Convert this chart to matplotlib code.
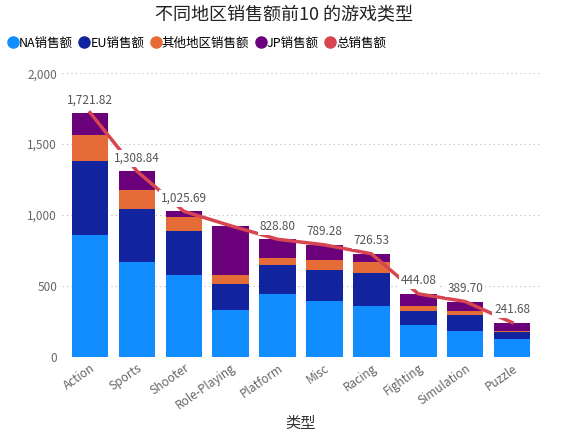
import matplotlib.pyplot as plt
import numpy as np
from matplotlib.ticker import FuncFormatter
from matplotlib.lines import Line2D

plt.rcParams['font.family'] = ['Noto Sans CJK SC', 'DejaVu Sans']

genres = ["Action", "Sports", "Shooter", "Role-Playing", "Platform", "Misc",
          "Racing", "Fighting", "Simulation", "Puzzle"]
na = [861.8, 671.8, 575.2, 326.5, 445.4, 396.9, 356.9, 220.7, 181.8, 122.0]
eu = [516.5, 371.3, 310.2, 187.6, 200.7, 211.8, 236.3, 100.3, 113.0, 50.5]
other = [184.9, 132.7, 101.9, 59.4, 51.5, 73.9, 76.5, 36.2, 31.5, 12.4]
jp = [158.7, 133.0, 38.4, 350.3, 131.2, 106.7, 56.8, 87.3, 63.4, 56.8]
total = [1721.82, 1308.84, 1025.69, 923.80, 828.80, 789.28, 726.53, 444.08, 389.70, 241.68]
show_label = [True, True, True, False, True, True, True, True, True, True]

names = ["NA销售额", "EU销售额", "其他地区销售额", "JP销售额", "总销售额"]
colors = ["#118DFF", "#12239E", "#E66C37", "#6B007B", "#D64550"]

fig, ax = plt.subplots(figsize=(5.68, 4.46), dpi=100)
x = np.arange(len(genres))
w = 0.78
b1 = np.array(na)
b2 = b1 + np.array(eu)
b3 = b2 + np.array(other)
ax.bar(x, na, w, color=colors[0])
ax.bar(x, eu, w, bottom=b1, color=colors[1])
ax.bar(x, other, w, bottom=b2, color=colors[2])
ax.bar(x, jp, w, bottom=b3, color=colors[3])
ax.plot(x, total, color=colors[4], lw=2.5, zorder=3)

for i, t in enumerate(total):
    if show_label[i]:
        ax.text(i, t + 45, f"{t:,.2f}", ha="center", va="bottom", fontsize=8.5,
                color="#555555", zorder=4,
                bbox=dict(boxstyle="square,pad=0.15", fc="white", ec="none"))

ax.set_ylim(0, 2000)
ax.set_xlim(-0.6, 9.6)
ax.set_yticks([0, 500, 1000, 1500, 2000])
ax.yaxis.set_major_formatter(FuncFormatter(lambda v, p: f"{v:,.0f}"))
ax.grid(axis="y", linestyle=(0, (1, 3)), color="#bbbbbb")
ax.set_axisbelow(True)
for s in ax.spines.values():
    s.set_visible(False)
ax.tick_params(length=0, labelsize=8.5, colors="#666666")
ax.set_xticks(x)
ax.set_xticklabels(genres, rotation=35, ha="right", rotation_mode="anchor")
ax.set_xlabel("类型", fontsize=11, color="#333333", labelpad=2)

fig.suptitle("不同地区销售额前10 的游戏类型", fontsize=13, color="#222222", y=0.985)
handles = [Line2D([], [], marker="o", ls="none", color=c, markersize=8) for c in colors]
fig.legend(handles, names, loc="upper left", bbox_to_anchor=(0.0, 0.935), ncol=5,
           frameon=False, fontsize=9, handlelength=0.8, handletextpad=0.1,
           columnspacing=0.5, borderaxespad=0.2)

plt.subplots_adjust(left=0.109, right=0.951, top=0.836, bottom=0.2)
plt.savefig("out.png")
